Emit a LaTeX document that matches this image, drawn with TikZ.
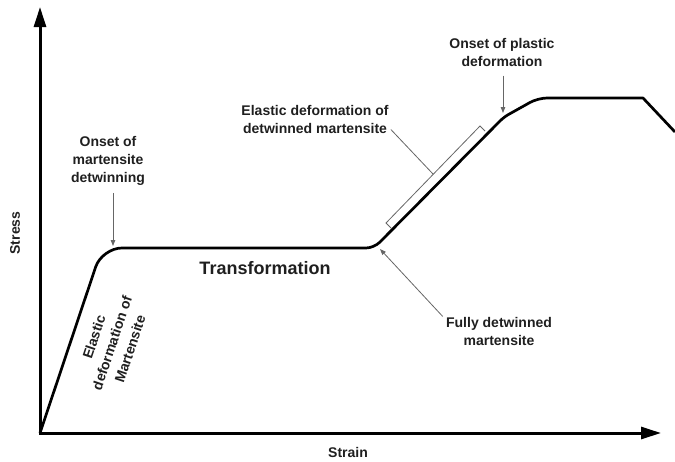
\documentclass[tikz,border=0pt]{standalone}
\usepackage{fontspec}
\setmainfont{Liberation Sans}
\usetikzlibrary{arrows.meta}

\begin{document}
\begin{tikzpicture}[x=1pt, y=-1pt, thick,
		txt/.style = {font=\fontsize{14}{18}\selectfont\bfseries, align=center, text=black!88, inner sep=0pt},
		pointer/.style = {draw=black!60, line width=0.8pt},
		axis/.style = {line width=3pt, {Triangle[length=20pt,width=12pt]}-{Triangle[length=20pt,width=12pt]}},
		curve/.style = {line width=2.7pt, line join=round}]
		\useasboundingbox (0,0) rectangle (675,461);
		% axes
		\coordinate (O) at (40,433);
		\coordinate (ytip) at (40,7);
		\coordinate (xtip) at (661,433);
		\draw[axis] (ytip) -- (O) -- (xtip);
		
		% points on the curve
		\coordinate (c1) at (102,248);
		\coordinate (c2) at (374,248);
		\coordinate (c3) at (504,117);
		\coordinate (c4) at (538,98);
		\coordinate (c5) at (643,98);
		\coordinate (c6) at (675,132);
		\draw[curve] (O) [rounded corners=20pt] -- (c1) [rounded corners=8pt] -- (c2)
			[rounded corners=5pt] -- (c3) [rounded corners=9pt] -- (c4) [rounded corners=0pt] -- (c5) -- (c6);
		
		% labels
		\node[txt, rotate=90] (stress) at (15,233) {Stress};
		\node[txt] (strain) at (348,452) {Strain};
		\node[txt, font=\fontsize{18}{22}\selectfont\bfseries] (trans) at (265,268) {Transformation};
		\node[txt, rotate=71.5, font=\fontsize{14}{19}\selectfont\bfseries] (elm) at (112,343) {Elastic\\deformation of\\Martensite};
		\node[txt] (twin) at (108,161) {Onset of\\martensite\\detwinning};
		\node[txt] (plastic) at (502,52) {Onset of plastic\\deformation};
		\node[txt] (full) at (499,331) {Fully detwinned\\martensite};
		\node[txt] (det) at (315,119) {Elastic deformation of\\detwinned martensite};
		
		% pointers
		\coordinate (tw) at (113,246);
		\coordinate (pl) at (503,113);
		\coordinate (fd) at (380,249);
		\draw[pointer, -{Triangle[length=6pt,width=4.5pt]}, shorten <=7pt] (twin.south -| tw) -- (tw);
		\draw[pointer, -{Triangle[length=6pt,width=4.5pt]}, shorten <=9pt] (plastic.south -| pl) -- (pl);
		\draw[pointer, -{Triangle[length=6pt,width=4.5pt]}] ([xshift=-3pt]full.north west) -- (fd);
		
		% bracket along the second elastic part
		\coordinate (b1) at (386,223);
		\coordinate (b2) at (480,126);
		\coordinate (bm) at (433,174);
		\draw[pointer] ([xshift=5pt,yshift=-5pt]b1) -- (b1) -- (b2) -- ([xshift=5pt,yshift=-5pt]b2);
		\draw[pointer] ([xshift=2pt,yshift=4pt]det.south east) -- (bm);
	\end{tikzpicture}
\end{document}
